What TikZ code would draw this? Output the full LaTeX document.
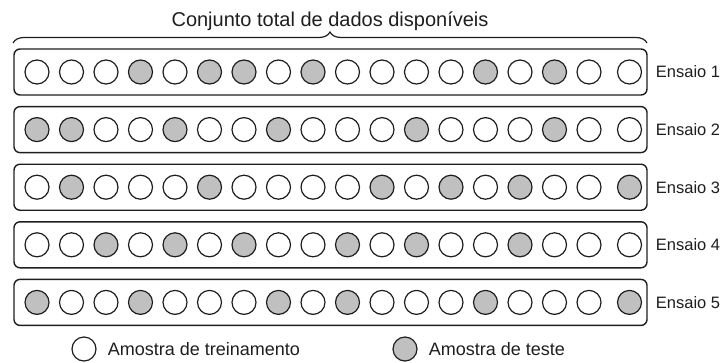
\documentclass[tikz,border=0pt]{standalone}
\usepackage{fontspec}
\setmainfont{Liberation Sans}
\usetikzlibrary{decorations.pathreplacing}
\definecolor{ink}{RGB}{30,30,30}
\definecolor{testfill}{RGB}{192,192,192}
\tikzset{
  sample/.style={circle, draw=ink, line width=1.2pt, minimum size=24pt, inner sep=0pt},
  train/.style={sample, fill=white},
  test/.style={sample, fill=testfill},
  rowbox/.style={draw=ink, line width=1.4pt, rounded corners=6pt, minimum width=633pt, minimum height=46pt, inner sep=0pt},
  trial/.style={anchor=west, inner sep=0pt, text=ink, font=\fontsize{16.5}{20}\selectfont},
  legendtext/.style={anchor=west, inner sep=0pt, text=ink, font=\fontsize{18}{22}\selectfont},
  titletext/.style={anchor=base, inner sep=0pt, text=ink, font=\fontsize{20}{24}\selectfont},
  bracestyle/.style={draw=ink, line width=1.2pt, decorate, decoration={brace, amplitude=11pt}}
}
\begin{document}
\begin{tikzpicture}[x=1pt,y=-1pt]
\useasboundingbox (0,0) rectangle (727,362);
\node[titletext] (title) at (330,26) {Conjunto total de dados disponíveis};
\coordinate (bl) at (13,43);
\coordinate (br) at (647,43);
\draw[bracestyle] (bl) -- (br);
\foreach \r/\pat in {
  1/{0,0,0,1,0,1,1,0,1,0,0,0,0,1,0,1,0,0},
  2/{1,1,0,0,1,0,0,1,0,0,0,1,0,0,0,1,0,0},
  3/{0,1,0,0,0,1,0,0,0,0,1,0,1,0,1,0,0,1},
  4/{0,0,1,0,1,0,1,0,0,1,0,1,0,0,1,0,0,0},
  5/{1,0,0,1,0,0,0,1,0,1,0,0,0,1,0,0,0,1}} {
  \pgfmathsetmacro\yc{72+(\r-1)*57.6}
  \node[rowbox] (row\r) at (330.5,\yc) {};
  \node[trial] (lab\r) at ([xshift=8pt]row\r.east) {Ensaio \r};
  \foreach \v [count=\i] in \pat {
    \pgfmathsetmacro\xc{ifthenelse(\i<18, 37+(\i-1)*34.5, 629.5)}
    \ifnum\v=1 \def\sty{test}\else\def\sty{train}\fi
    \node[\sty] (c\r-\i) at (\xc,\yc) {};
  }
}
\node[train] (legtrain) at (84,349) {};
\node[legendtext] (legtraintext) at ([xshift=11pt]legtrain.east) {Amostra de treinamento};
\node[test] (legtest) at (405,349) {};
\node[legendtext] (legtesttext) at ([xshift=11pt]legtest.east) {Amostra de teste};
\end{tikzpicture}
\end{document}
